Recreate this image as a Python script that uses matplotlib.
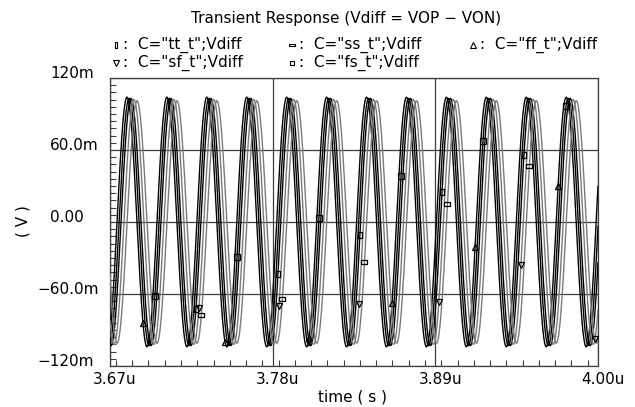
"""
Transient response of the differential output (Vdiff = VOP - VON)
across the five process corners.
"""
import numpy as np
import matplotlib
matplotlib.use("Agg")
import matplotlib.pyplot as plt
from matplotlib.lines import Line2D
from matplotlib.path import Path
from matplotlib.ticker import MultipleLocator, FixedLocator

plt.rcParams["font.family"] = ["DejaVu Sans"]

# ---- data ---------------------------------------------------------------
corners = ["tt_t", "ss_t", "ff_t", "sf_t", "fs_t"]
amplitude_mV = [103, 101, 104, 102, 103]                      # peak of each wave
first_peak_us = [3.6842, 3.6883, 3.6815, 3.6862, 3.6829]      # time of first crest
period_us = 0.0270                                            # ~37 MHz input tone

# times where the simulator dropped a symbol on each curve
marker_t_us = [
    [3.7281, 3.7836, 3.8390, 3.8945, 3.9499],
    [3.7318, 3.7866, 3.8421, 3.8982, 3.9536],
    [3.6923, 3.7478, 3.8046, 3.8607, 3.9169, 3.9730],
    [3.7301, 3.7842, 3.8383, 3.8924, 3.9479, 3.9980],
    [3.7004, 3.7559, 3.8113, 3.8668, 3.9222, 3.9784],
]

t_start, t_stop = 3.67, 4.00
x_ticks = [3.67, 3.78, 3.89, 4.00]
x_labels = ["3.67u", "3.78u", "3.89u", "4.00u"]
y_ticks = [120, 60, 0, -60, -120]
y_labels = ["120m", "60.0m", "0.00", "\u221260.0m", "\u2212120m"]

# ---- styles --------------------------------------------------------------
W, H = 635, 407
tall = Path([(-0.45, -1), (0.45, -1), (0.45, 1), (-0.45, 1), (-0.45, -1)])
wide = Path([(-1, -0.45), (1, -0.45), (1, 0.45), (-1, 0.45), (-1, -0.45)])
markers = [tall, wide, "^", "v", "s"]
msizes = [5, 5, 4.5, 4.5, 4]
colors = ["#000000", "#7a7a7a", "#000000", "#7a7a7a", "#000000"]
grid_c = "#3c3c3c"


def fx(px):
    return px / W


def fy(py):
    return 1 - py / H


fig = plt.figure(figsize=(W / 100, H / 100), dpi=100)
ax = fig.add_axes([fx(110), fy(366), 488 / W, 288 / H])

t = np.linspace(t_start, t_stop, 4000)
for i, name in enumerate(corners):
    v = amplitude_mV[i] * np.cos(2 * np.pi * (t - first_peak_us[i]) / period_us)
    ax.plot(t, v, color=colors[i], lw=1.0, zorder=3 + (i % 2))
    mt = np.array(marker_t_us[i])
    mv = np.interp(mt, t, v)
    ax.plot(mt, mv, ls="none", marker=markers[i], ms=msizes[i],
            mfc="none", mec="black", mew=0.9, zorder=6)

ax.set_xlim(t_start, t_stop)
ax.set_ylim(-120, 120)

ax.xaxis.set_major_locator(FixedLocator(x_ticks))
ax.xaxis.set_minor_locator(MultipleLocator(0.011))
ax.yaxis.set_major_locator(FixedLocator(y_ticks))
ax.yaxis.set_minor_locator(MultipleLocator(6))
ax.tick_params(which="both", direction="in", top=False, right=False,
               color=grid_c, width=0.8, labelbottom=False, labelleft=False)
ax.tick_params(which="major", length=0)
ax.tick_params(which="minor", length=4)
ax.grid(True, which="major", color=grid_c, lw=0.9)
for s in ax.spines.values():
    s.set_color(grid_c)
    s.set_linewidth(0.9)

fs = 11
# tick labels drawn by hand to mimic the waveform viewer's alignment
for val, lab in zip(y_ticks, y_labels):
    x0 = 37 if lab.startswith("\u2212") else 50
    ax.annotate(lab, xy=(fx(x0), val), xycoords=("figure fraction", "data"),
                xytext=(0, 4), textcoords="offset pixels",
                ha="left", va="center", fontsize=fs, annotation_clip=False)
for val, lab in zip(x_ticks, x_labels):
    ax.annotate(lab, xy=(val, fy(380)), xycoords=("data", "figure fraction"),
                xytext=(5, 0), textcoords="offset pixels",
                ha="center", va="center", fontsize=fs, annotation_clip=False)

fig.text(fx(352), fy(397), "time ( s )", ha="center", va="center", fontsize=fs)
fig.text(fx(23), fy(221), "( V )", ha="center", va="center", fontsize=fs,
         rotation=90)
fig.text(fx(346), fy(18), "Transient Response (Vdiff = VOP \u2212 VON)",
         ha="center", va="center", fontsize=fs)

# legend, two rows like the viewer's header
legend_pos = [(116, 45), (292, 45), (473, 45), (116, 63), (292, 63)]
for i, name in enumerate(corners):
    px, py = legend_pos[i]
    fig.add_artist(Line2D([fx(px)], [fy(py)], transform=fig.transFigure,
                          ls="none", marker=markers[i], ms=msizes[i] - 0.5,
                          mfc="none", mec="black", mew=0.8))
    fig.text(fx(px + 7), fy(py), ':  C="%s";Vdiff' % name,
             ha="left", va="center", fontsize=fs)

fig.savefig("out.png", dpi=100, facecolor="white")
